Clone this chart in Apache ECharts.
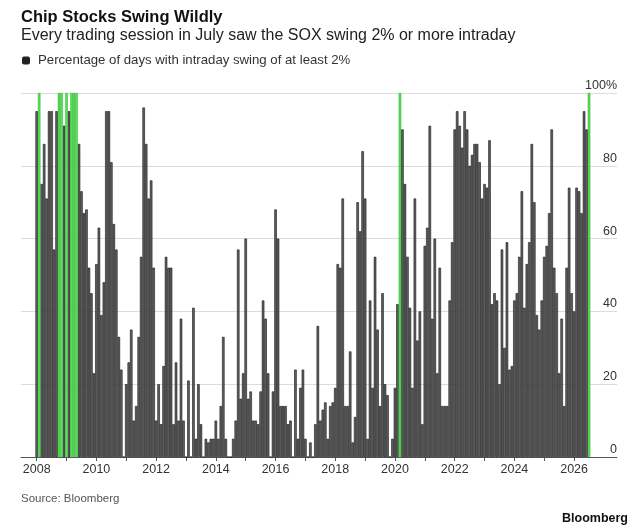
<!DOCTYPE html>
<html><head><meta charset="utf-8">
<script src="https://cdn.jsdelivr.net/npm/echarts@6/dist/echarts.min.js"></script>
<style>html,body{margin:0;padding:0;background:#fff}#c{width:640px;height:532px}</style>
</head><body><div id="c"></div>
<script>
// Monthly % of trading days with an intraday SOX swing of at least 2% (Jan 2008 - Jul 2026)
const v2008 = [95, 100, 75, 86, 71, 95, 95, 57, 95, 100, 100, 91];
const v2009 = [100, 95, 100, 100, 100, 86, 73, 67, 68, 52, 45, 23];
const v2010 = [53, 63, 39, 48, 95, 95, 81, 64, 57, 33, 24, 0];
const v2011 = [20, 26, 35, 10, 14, 33, 55, 96, 86, 71, 76, 52];
const v2012 = [10, 20, 9, 25, 55, 52, 52, 9, 26, 10, 38, 10];
const v2013 = [0, 21, 0, 41, 5, 20, 9, 0, 5, 4, 5, 5];
const v2014 = [10, 5, 14, 33, 5, 0, 0, 5, 10, 57, 16, 23];
const v2015 = [60, 16, 18, 10, 10, 9, 18, 43, 38, 23, 0, 18];
const v2016 = [68, 60, 14, 14, 14, 9, 10, 0, 24, 5, 19, 24];
const v2017 = [5, 0, 4, 0, 9, 36, 10, 13, 15, 5, 14, 15];
const v2018 = [19, 53, 52, 71, 14, 14, 29, 4, 11, 70, 62, 84];
const v2019 = [71, 5, 43, 19, 55, 35, 14, 45, 20, 17, 0, 5];
const v2020 = [19, 42, 100, 90, 75, 55, 41, 19, 71, 32, 40, 9];
const v2021 = [58, 63, 91, 38, 60, 23, 52, 14, 14, 14, 43, 59];
const v2022 = [90, 95, 91, 85, 95, 90, 80, 83, 86, 86, 81, 71];
const v2023 = [75, 74, 87, 42, 45, 43, 20, 57, 30, 59, 24, 25];
const v2024 = [43, 45, 55, 73, 41, 53, 59, 86, 70, 39, 35, 43];
const v2025 = [55, 58, 67, 90, 52, 45, 23, 38, 14, 52, 74, 45];
const v2026 = [40, 74, 73, 67, 95, 90, 100];

const startYear = 2008;
const yearTicks = [2008,2009,2010,2011,2012,2013,2014,2015,2016,2017,2018,2019,2020,2021,2022,2023,2024,2025,2026];
const yearLabels = [2008,2010,2012,2014,2016,2018,2020,2022,2024,2026];
const seriesName = 'Percentage of days with intraday swing of at least 2%';

const values = [].concat(v2008,v2009,v2010,v2011,v2012,v2013,v2014,v2015,v2016,v2017,v2018,v2019,v2020,v2021,v2022,v2023,v2024,v2025,v2026);
const grayData = values.map((v, i) => [i, v < 100 ? v : null]);
const greenData = values.map((v, i) => [i, v >= 100 ? v : null]);

const F = '"Liberation Sans", Arial, Helvetica, sans-serif';
const chart = echarts.init(document.getElementById('c'), null, {renderer: 'canvas'});
chart.setOption({
  animation: false,
  backgroundColor: '#fff',
  title: [
    {text: 'Chip Stocks Swing Wildly', left: 21, top: 9, padding: 0,
     textStyle: {fontFamily: F, fontSize: 16.5, fontWeight: 'bold', color: '#111'}},
    {text: 'Every trading session in July saw the SOX swing 2% or more intraday', left: 21, top: 28, padding: 0,
     textStyle: {fontFamily: F, fontSize: 16, fontWeight: 'normal', color: '#222'}},
    {text: 'Source: Bloomberg', left: 21, top: 493, padding: 0,
     textStyle: {fontFamily: F, fontSize: 11.5, fontWeight: 'normal', color: '#555'}},
    {text: 'Bloomberg', right: 12, top: 512, padding: 0,
     textStyle: {fontFamily: F, fontSize: 12.5, fontWeight: 'bold', color: '#111'}}
  ],
  legend: {
    left: 22, top: 54, padding: 0, icon: 'roundRect', itemWidth: 8, itemHeight: 8,
    textStyle: {fontFamily: F, fontSize: 13.2, color: '#333', padding: [0, 0, 0, 3]},
    data: [{name: seriesName, itemStyle: {color: '#222', borderWidth: 0}}]
  },
  grid: {left: 21, right: 23, top: 93, bottom: 75, containLabel: false},
  xAxis: {
    type: 'value', min: -6.31, max: 233.24,
    axisLine: {show: true, lineStyle: {color: '#555', width: 1}},
    axisTick: {show: true, length: 4, lineStyle: {color: '#555'},
               customValues: yearTicks.map(y => (y - startYear) * 12)},
    axisLabel: {show: true, margin: 6, fontFamily: F, fontSize: 12.5, color: '#333',
                customValues: yearLabels.map(y => (y - startYear) * 12),
                formatter: v => String(startYear + Math.round(v / 12))},
    splitLine: {show: false}
  },
  yAxis: {
    type: 'value', position: 'right', min: 0, max: 100, interval: 20,
    axisLine: {show: false}, axisTick: {show: false},
    axisLabel: {inside: true, margin: 0, verticalAlign: 'bottom', padding: [0, 0, 1, 0],
                fontFamily: F, fontSize: 12.5, color: '#333',
                formatter: v => v === 100 ? '100%' : String(v)},
    splitLine: {show: true, lineStyle: {color: '#dcdcdc', width: 1}}
  },
  series: [
    {
      type: 'bar', name: seriesName, data: grayData, barWidth: 2.5, barGap: '-100%',
      itemStyle: {color: '#606060', borderColor: '#151515', borderWidth: 0.6}
    },
    {
      type: 'bar', name: 'full', data: greenData, barWidth: 2.5, barGap: '-100%',
      itemStyle: {color: '#4fe34f', borderColor: '#2e9a2e', borderWidth: 0.4}
    }
  ]
});
</script></body></html>
